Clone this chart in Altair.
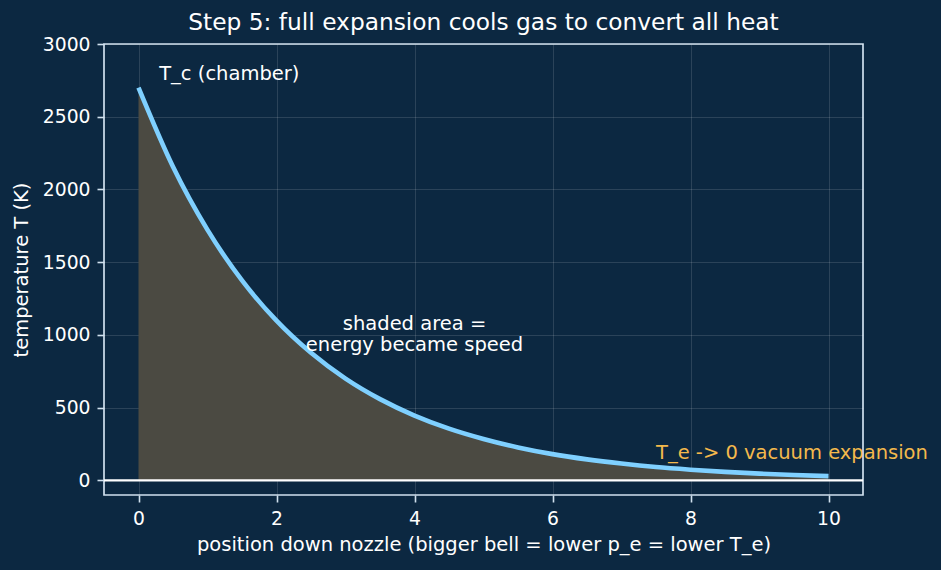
import altair as alt
import pandas as pd

positions = [0, 0.5, 1, 1.5, 2, 2.5, 3, 3.5, 4, 4.5, 5, 5.5, 6, 6.5, 7, 7.5, 8, 8.5, 9, 9.5, 10]
temps = [2700, 2156, 1722, 1375, 1098, 877, 700, 559, 446, 356, 285, 227, 181, 145, 116, 92, 74, 59, 47, 37, 30]

BG = "#0c2841"
FONT = "DejaVu Sans"
FS = 19.5
TICK_FS = 18.75

df = pd.DataFrame({"x": positions, "T": temps})

xs = alt.Scale(domain=[-0.5, 10.5], nice=False, zero=False)
ys = alt.Scale(domain=[-100, 3000], nice=False, zero=False)

x_enc = alt.X("x:Q", scale=xs, title="position down nozzle (bigger bell = lower p_e = lower T_e)",
              axis=alt.Axis(values=[0, 2, 4, 6, 8, 10], format="d"))
y_enc = alt.Y("T:Q", scale=ys, title="temperature T (K)",
              axis=alt.Axis(values=[0, 500, 1000, 1500, 2000, 2500, 3000], format="d"))

area = alt.Chart(df).mark_area(color="#4b4a42", interpolate="monotone").encode(
    x=x_enc, y=y_enc, y2=alt.datum(0)
)
line = alt.Chart(df).mark_line(color="#7fd0ff", strokeWidth=4.6, interpolate="monotone").encode(
    x="x:Q", y="T:Q"
)
zero = alt.Chart(pd.DataFrame({"y": [0]})).mark_rule(color="#ffffff", strokeWidth=2.2).encode(
    y=alt.Y("y:Q", scale=ys)
)

labels = pd.DataFrame({
    "x": [0.3, 7.5],
    "y": [2750, 150],
    "t": ["T_c (chamber)", "T_e -> 0 vacuum expansion"],
    "c": ["#ffffff", "#f4b94c"],
})
txt = alt.Chart(labels).mark_text(align="left", baseline="alphabetic", fontSize=FS, font=FONT).encode(
    x=alt.X("x:Q", scale=xs), y=alt.Y("y:Q", scale=ys), text="t:N",
    color=alt.Color("c:N", scale=None)
)
mid = alt.Chart(pd.DataFrame({"x": [4], "y": [1075], "t": [["shaded area =", "energy became speed"]]})).mark_text(
    align="center", baseline="middle", fontSize=FS, font=FONT, color="#ffffff", lineHeight=21
).encode(x=alt.X("x:Q", scale=xs), y=alt.Y("y:Q", scale=ys), text="t")

chart = alt.layer(area, zero, line, txt, mid).properties(
    width=759, height=451,
    background=BG,
    padding={"left": 104, "top": 44, "right": 78, "bottom": 75},
    autosize=alt.AutoSizeParams(type="none"),
    title=alt.TitleParams("Step 5: full expansion cools gas to convert all heat", color="#ffffff",
                          font=FONT, fontSize=23.3, fontWeight="normal", offset=0),
).configure_view(stroke="#d0e0ee", strokeWidth=1.7, fill=BG).configure_axis(
    gridColor="#ffffff", gridOpacity=0.13, gridWidth=1,
    domain=False, tickColor="#d0e0ee", tickSize=7, tickWidth=1.6, labelColor="#ffffff", titleColor="#ffffff",
    labelFont=FONT, titleFont=FONT, labelFontSize=TICK_FS, titleFontSize=FS, titleFontWeight="normal",
    labelPadding=7,
).configure_axisX(titlePadding=8).configure_axisY(titlePadding=11)

chart.save("out.html", embed_options={"renderer": "svg", "actions": False})
